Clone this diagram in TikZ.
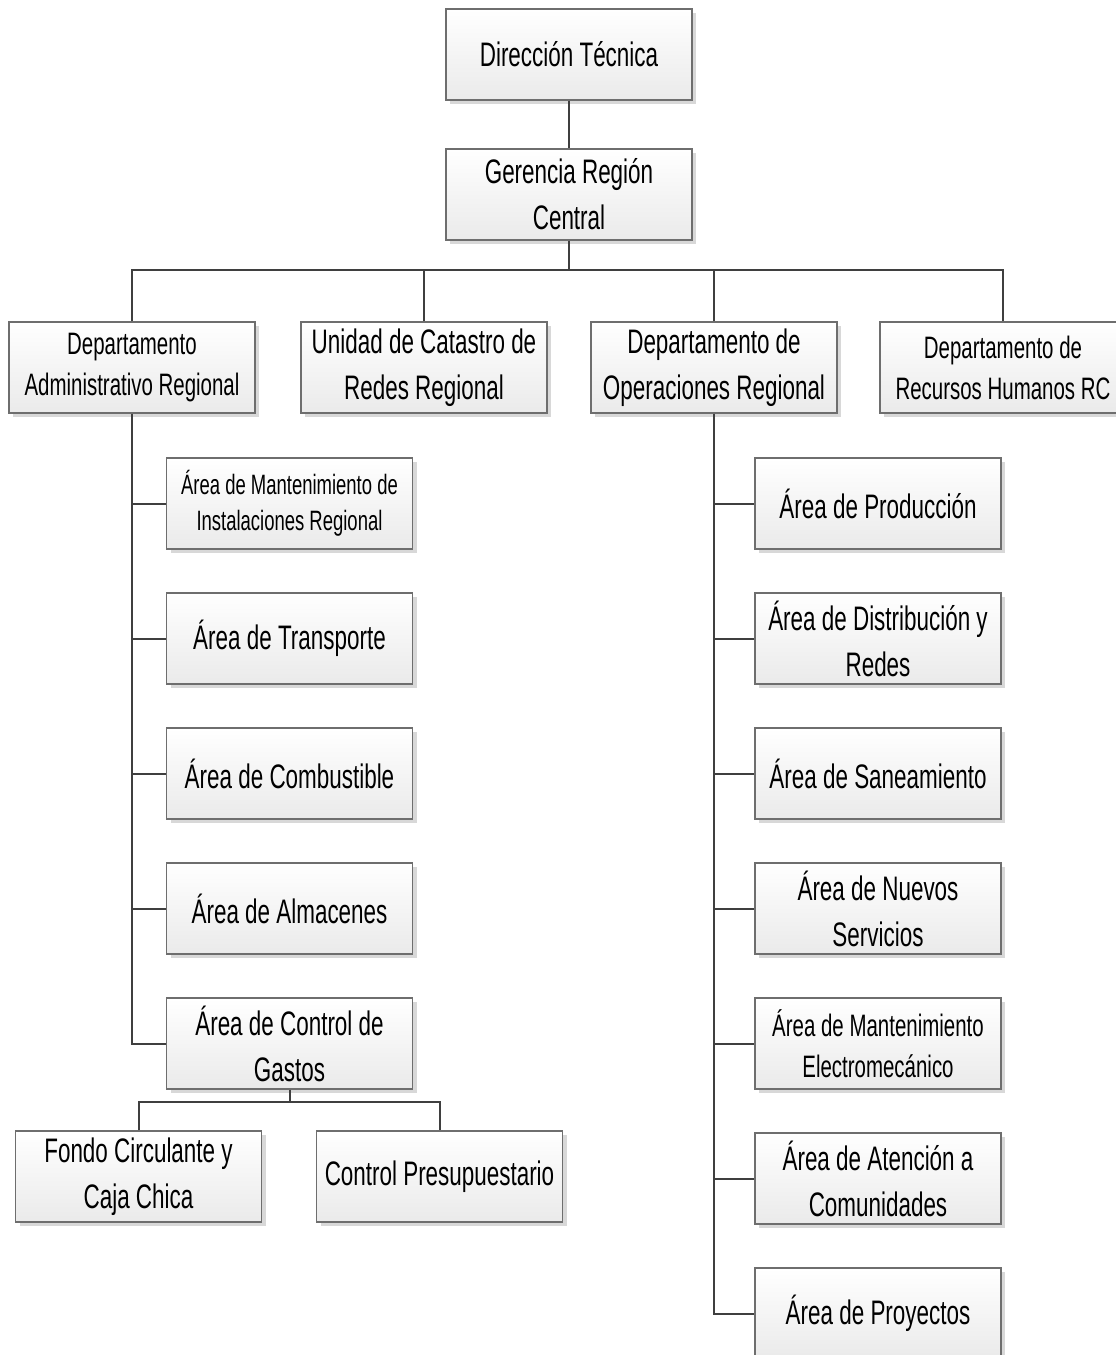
\documentclass[tikz,border=0pt]{standalone}
\usepackage{fontspec}
\setmainfont[FakeStretch=0.66]{Liberation Sans}
\usetikzlibrary{shadows}
\definecolor{boxline}{HTML}{6E6E6E}
\definecolor{boxfill}{HTML}{EAEAEA}
\definecolor{shadowgray}{HTML}{D8D8D8}
\definecolor{linkgray}{HTML}{3F3F3F}
\begin{document}
\begin{tikzpicture}[x=1pt,y=-1pt,
  unit/.style={draw=boxline, line width=1.1pt, top color=white, bottom color=boxfill,
    minimum width=246pt, minimum height=91pt, inner sep=0pt, align=center,
    font=\fontsize{34}{46}\selectfont,
    drop shadow={shadow xshift=4pt, shadow yshift=-4pt, fill=shadowgray, opacity=1}},
  smalltxt/.style={font=\fontsize{31}{41}\selectfont},
  tinytxt/.style={font=\fontsize{28}{36}\selectfont},
  link/.style={draw=linkgray, line width=2pt}]
\useasboundingbox (0,0) rectangle (1116,1355);

% top of the hierarchy
\node[unit] (dt) at (569,54.5) {Dirección Técnica};
\node[unit] (gr) at (569,194.5) {Gerencia Región\\Central};

% departments
\node[unit,smalltxt] (dar) at (132,367.5) {Departamento\\Administrativo Regional};
\node[unit] (ucr) at (424,367.5) {Unidad de Catastro de\\Redes Regional};
\node[unit] (dor) at (714,367.5) {Departamento de\\Operaciones Regional};
\node[unit,smalltxt] (drh) at (1003,367.5) {Departamento de\\Recursos Humanos RC};

% administrative areas
\node[unit,tinytxt] (a1) at (289.5,503.5) {Área de Mantenimiento de\\Instalaciones Regional};
\node[unit] (a2) at (289.5,638.5) {Área de Transporte};
\node[unit] (a3) at (289.5,773.5) {Área de Combustible};
\node[unit] (a4) at (289.5,908.5) {Área de Almacenes};
\node[unit] (a5) at (289.5,1043.5) {Área de Control de\\Gastos};
\node[unit] (g1) at (138.5,1176.5) {Fondo Circulante y\\Caja Chica};
\node[unit] (g2) at (439.5,1176.5) {Control Presupuestario};

% operations areas
\node[unit] (o1) at (878,503.5) {Área de Producción};
\node[unit] (o2) at (878,638.5) {Área de Distribución y\\Redes};
\node[unit] (o3) at (878,773.5) {Área de Saneamiento};
\node[unit] (o4) at (878,908.5) {Área de Nuevos\\Servicios};
\node[unit,smalltxt] (o5) at (878,1043.5) {Área de Mantenimiento\\Electromecánico};
\node[unit] (o6) at (878,1178.5) {Área de Atención a\\Comunidades};
\node[unit] (o7) at (878,1313.5) {Área de Proyectos};

% connectors
\coordinate (bus) at (569,270);
\coordinate (gbus) at (289.5,1102);
\draw[link] (dt.south) -- (gr.north);
\draw[link] (gr.south) -- (bus);
\draw[link] (dar.north) |- (bus) -| (drh.north);
\draw[link] (ucr.north) -- (ucr.north |- bus);
\draw[link] (dor.north) -- (dor.north |- bus);

\draw[link] (dar.south) |- (a5.west);
\foreach \n in {a1,a2,a3,a4}
  \draw[link] (dar.south |- \n.west) -- (\n.west);

\draw[link] (a5.south) -- (gbus);
\draw[link] (g1.north) |- (gbus) -| (g2.north);

\draw[link] (dor.south) |- (o7.west);
\foreach \n in {o1,o2,o3,o4,o5,o6}
  \draw[link] (dor.south |- \n.west) -- (\n.west);
\end{tikzpicture}
\end{document}
